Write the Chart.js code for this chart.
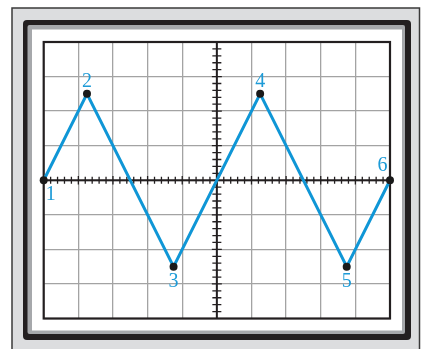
<!DOCTYPE html>
<html>
<head>
<meta charset="utf-8">
<script src="https://cdn.jsdelivr.net/npm/chart.js@4.4.1/dist/chart.umd.min.js"></script>
<style>
html,body{margin:0;padding:0;background:#fff;}
#wrap{width:425px;height:349px;position:relative;}
</style>
</head>
<body>
<div id="wrap"><canvas id="c" width="425" height="349"></canvas></div>
<script>
// Data: divisions on the oscilloscope screen
const pointX = [0, 1.25, 3.75, 6.25, 8.75, 10];
const pointY = [0, 2.5, -2.5, 2.5, -2.5, 0];
const pointLabels = ['1', '2', '3', '4', '5', '6'];
const xDivisions = [0, 10];
const yDivisions = [-4, 4];

const labelOffsets = [[7, 13], [0, -13.5], [0, 14.5], [0, -13.5], [0, 14.5], [-7.5, -15.5]];

function rr(ctx, x, y, w, h, r) {
  ctx.beginPath();
  ctx.moveTo(x + r, y);
  ctx.lineTo(x + w - r, y);
  ctx.quadraticCurveTo(x + w, y, x + w, y + r);
  ctx.lineTo(x + w, y + h - r);
  ctx.quadraticCurveTo(x + w, y + h, x + w - r, y + h);
  ctx.lineTo(x + r, y + h);
  ctx.quadraticCurveTo(x, y + h, x, y + h - r);
  ctx.lineTo(x, y + r);
  ctx.quadraticCurveTo(x, y, x + r, y);
  ctx.closePath();
}

const framePlugin = {
  id: 'frame',
  beforeDraw(chart) {
    const ctx = chart.ctx;
    ctx.save();
    ctx.fillStyle = '#ffffff';
    ctx.fillRect(0, 0, 425, 349);
    // outer bezel
    ctx.fillStyle = '#dcdddf';
    ctx.fillRect(12, 8, 407.5, 360);
    ctx.strokeStyle = '#3a3a3a';
    ctx.lineWidth = 1.5;
    ctx.strokeRect(12, 8, 407.5, 360);
    // black frame
    ctx.fillStyle = '#231f20';
    rr(ctx, 23, 20, 388, 320, 4);
    ctx.fill();
    // gray inner
    ctx.fillStyle = '#a6a8ab';
    rr(ctx, 27.5, 25, 377.5, 309, 2);
    ctx.fill();
    // white screen
    ctx.fillStyle = '#ffffff';
    ctx.fillRect(32, 29.5, 370, 301);
    ctx.restore();
  },
  beforeDatasetsDraw(chart) {
    const ctx = chart.ctx;
    const xs = chart.scales.x, ys = chart.scales.y;
    const a = chart.chartArea;
    const x0 = xs.getPixelForValue(5), y0 = ys.getPixelForValue(0);
    ctx.save();
    ctx.strokeStyle = '#231f20';
    // central axes
    ctx.lineWidth = 2;
    ctx.beginPath();
    ctx.moveTo(a.left, y0); ctx.lineTo(a.right, y0);
    ctx.moveTo(x0, a.top); ctx.lineTo(x0, a.bottom);
    ctx.stroke();
    // minor ticks
    ctx.lineWidth = 1.3;
    ctx.beginPath();
    for (let k = 1; k < 50; k++) {
      const px = xs.getPixelForValue(k * 0.2);
      const h = (k % 5 === 0) ? 4.2 : 3.4;
      ctx.moveTo(px, y0 - h); ctx.lineTo(px, y0 + h);
    }
    for (let k = -19; k < 20; k++) {
      if (k === 0) continue;
      const py = ys.getPixelForValue(k * 0.2);
      const w = (k % 5 === 0) ? 5 : 4.5;
      ctx.moveTo(x0 - w, py); ctx.lineTo(x0 + w, py);
    }
    ctx.stroke();
    // plot border
    ctx.lineWidth = 2.2;
    ctx.strokeRect(a.left, a.top, a.right - a.left, a.bottom - a.top);
    ctx.restore();
  },
  afterDatasetsDraw(chart) {
    const ctx = chart.ctx;
    const meta = chart.getDatasetMeta(0);
    ctx.save();
    ctx.fillStyle = '#1d9bd7';
    ctx.font = '20px "Liberation Serif", "DejaVu Serif", serif';
    ctx.textAlign = 'center';
    ctx.textBaseline = 'middle';
    meta.data.forEach((el, i) => {
      const o = labelOffsets[i];
      ctx.fillText(pointLabels[i], el.x + o[0], el.y + o[1] + 1);
    });
    ctx.restore();
  }
};

const ctx = document.getElementById('c').getContext('2d');
new Chart(ctx, {
  type: 'scatter',
  data: {
    datasets: [{
      data: pointX.map((x, i) => ({ x: x, y: pointY[i] })),
      showLine: true,
      borderColor: '#0f96d6',
      borderWidth: 3,
      pointRadius: 4,
      pointBackgroundColor: '#1a1a1a',
      pointBorderColor: '#1a1a1a',
      pointBorderWidth: 0,
      tension: 0,
      clip: false
    }]
  },
  options: {
    responsive: false,
    animation: false,
    layout: { padding: { left: 43.7, top: 42, right: 35, bottom: 30.5 } },
    plugins: { legend: { display: false }, tooltip: { enabled: false } },
    scales: {
      x: {
        type: 'linear', min: xDivisions[0], max: xDivisions[1],
        ticks: { display: false, stepSize: 1 },
        grid: { color: '#a3a3a3', lineWidth: 1.3, drawTicks: false },
        border: { display: false }
      },
      y: {
        type: 'linear', min: yDivisions[0], max: yDivisions[1],
        ticks: { display: false, stepSize: 1 },
        grid: { color: '#a3a3a3', lineWidth: 1.3, drawTicks: false },
        border: { display: false }
      }
    }
  },
  plugins: [framePlugin]
});
</script>
</body>
</html>
